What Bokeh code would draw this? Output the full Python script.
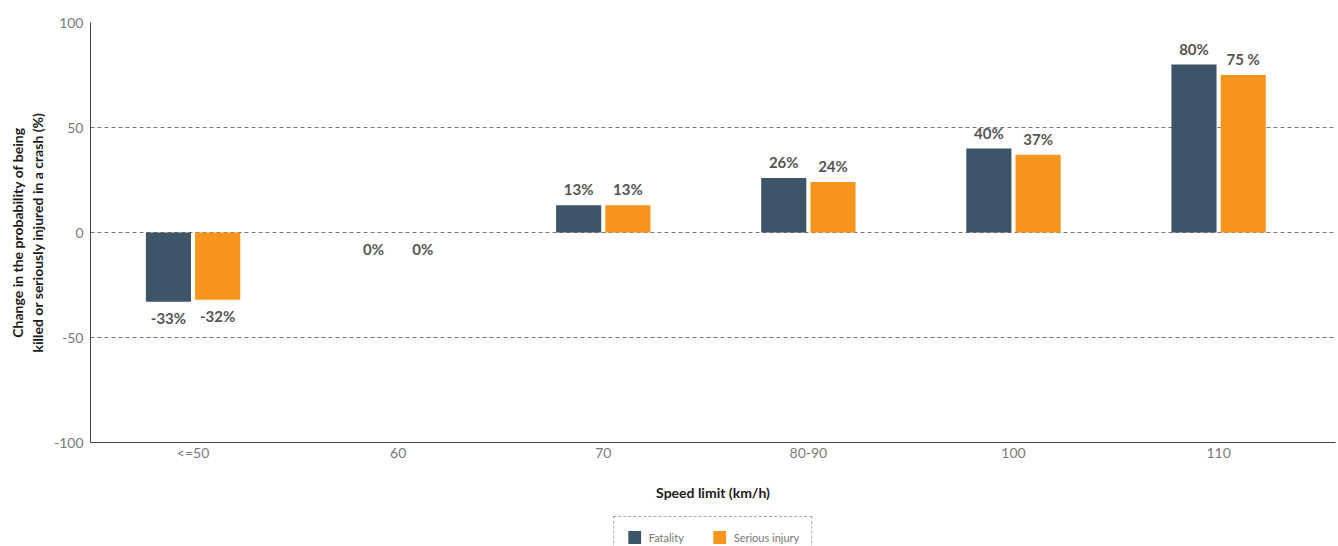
from bokeh.plotting import figure
from bokeh.layouts import column
from bokeh.models import (ColumnDataSource, Range1d, FixedTicker, Legend, LegendItem)
from bokeh.core.properties import value
from bokeh.embed import file_html
from bokeh.resources import INLINE

categories = ["<=50", "60", "70", "80-90", "100", "110"]
fatality = [-33, 0, 13, 26, 40, 80]
serious = [-32, 0, 13, 24, 37, 75]
fatality_labels = ["-33%", "0%", "13%", "26%", "40%", "80%"]
serious_labels = ["-32%", "0%", "13%", "24%", "37%", "75 %"]
y_ticks = [-100, -50, 0, 50, 100]
y_tick_labels = ["-100", "-50", "0", "50", "100"]
series_names = ["Fatality", "Serious injury"]

FONT = "Lato"
C_FAT = "#3e5469"
C_SER = "#f7941d"
LABEL_C = "#555555"

xs = [i + 0.5 for i in range(len(categories))]
BAR_W = 0.22
OFF = 0.12


def make_source(vals, labels, sign):
    return ColumnDataSource(dict(
        x=[x + sign * OFF for x in xs],
        top=[max(v, 0) for v in vals],
        bottom=[min(v, 0) for v in vals],
        y=vals,
        text=labels,
        yoff=[-7 if v > 0 else 7 for v in vals],
        base=["bottom" if v > 0 else "top" for v in vals],
    ))


src_f = make_source(fatality, fatality_labels, -1)
src_s = make_source(serious, serious_labels, 1)

p = figure(width=1338, height=515, output_backend="svg", toolbar_location=None,
           x_range=Range1d(0, 6.07), y_range=Range1d(-100, 100),
           min_border_left=90, min_border_right=3, min_border_top=22,
           min_border_bottom=73)
p.outline_line_color = None
p.background_fill_color = "white"
p.border_fill_color = "white"

p.vbar(x="x", top="top", bottom="bottom", width=BAR_W, source=src_f,
       fill_color=C_FAT, line_color=None)
p.vbar(x="x", top="top", bottom="bottom", width=BAR_W, source=src_s,
       fill_color=C_SER, line_color=None)

for src in (src_f, src_s):
    p.text(x="x", y="y", text="text", source=src, y_offset="yoff",
           text_baseline="base", text_align="center",
           text_font=value(FONT), text_font_style="bold", text_font_size="15px",
           text_color=LABEL_C)

# axes
p.xaxis.ticker = FixedTicker(ticks=xs)
p.xaxis.major_label_overrides = {x: c for x, c in zip(xs, categories)}
p.yaxis.ticker = FixedTicker(ticks=y_ticks)
p.yaxis.major_label_overrides = {t: s for t, s in zip(y_ticks, y_tick_labels)}

for ax in (p.xaxis[0], p.yaxis[0]):
    ax.axis_line_color = "#444444"
    ax.axis_line_width = 1
    ax.major_tick_line_color = None
    ax.minor_tick_line_color = None
    ax.major_tick_out = 0
    ax.major_tick_in = 0
    ax.minor_tick_out = 0
    ax.minor_tick_in = 0
    ax.major_label_text_font = FONT
    ax.major_label_text_color = "#7a7a7a"
    ax.axis_label_text_font = FONT
    ax.axis_label_text_font_style = "bold"
    ax.axis_label_text_color = "#1a1a1a"

p.xaxis.major_label_text_font_size = "14px"
p.xaxis.major_label_standoff = 1
p.xaxis.axis_label = "Speed limit (km/h)"
p.xaxis.axis_label_text_font_size = "14px"
p.xaxis.axis_label_standoff = 20

p.yaxis.major_label_text_font_size = "14px"
p.yaxis.major_label_standoff = 7
p.yaxis.axis_label = "Change in the probability of being\nkilled or seriously injured in a crash (%)"
p.yaxis.axis_label_text_font_size = "14px"
p.yaxis.axis_label_standoff = 5

p.xgrid.grid_line_color = None
p.ygrid.grid_line_color = "#777777"
p.ygrid.grid_line_dash = "4 3"
p.ygrid.grid_line_width = 1

# legend strip below the chart (its box runs past the page's bottom edge)
leg = figure(width=1338, height=31, output_backend="svg", toolbar_location=None,
             x_range=Range1d(0, 1), y_range=Range1d(0, 1),
             min_border_left=0, min_border_right=0, min_border_top=0,
             min_border_bottom=0)
leg.outline_line_color = None
leg.axis.visible = False
leg.grid.visible = False
lf = leg.vbar(x=[0], top=[0], bottom=[0], width=0.1, fill_color=C_FAT, line_color=None)
ls = leg.vbar(x=[0], top=[0], bottom=[0], width=0.1, fill_color=C_SER, line_color=None)
legend = Legend(items=[LegendItem(label=series_names[0], renderers=[lf]),
                       LegendItem(label=series_names[1], renderers=[ls])],
                orientation="horizontal", location="top_center",
                border_line_color="#555555", border_line_dash="3 3",
                border_line_width=1,
                label_text_font=FONT, label_text_font_size="11px",
                label_text_color="#777777",
                glyph_width=16, glyph_height=16, spacing=22,
                padding=12, margin=1, label_standoff=7, label_width=40,
                label_height=16,
                background_fill_alpha=0)
leg.add_layout(legend, "center")

layout = column(p, leg, spacing=0)
open("out.html", "w").write(file_html(layout, INLINE))
